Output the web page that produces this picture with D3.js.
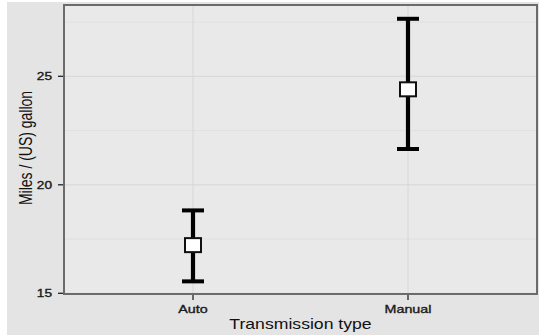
<!DOCTYPE html>
<html>
<head>
<meta charset="utf-8">
<script src="https://cdn.jsdelivr.net/npm/d3@7"></script>
<style>
  html, body { margin: 0; padding: 0; background: #ffffff; }
  svg { display: block; }
  text { font-family: "Liberation Sans", Arial, sans-serif; }
</style>
</head>
<body>
<svg id="chart" width="539" height="335"></svg>
<script>
// ---- data ----
const categories = ["Auto", "Manual"];
const meanValues = [17.22, 24.40];
const lowerValues = [15.55, 21.65];
const upperValues = [18.82, 27.65];
const yTicks = [15, 20, 25];
const yMinorTicks = [17.5, 22.5, 27.5];
const xTitle = "Transmission type";
const yTitle = "Miles / (US) gallon";

// ---- layout ----
const W = 539, H = 335;
const panel = { left: 64, right: 537, top: 5, bottom: 294 };
const stretch = 1.3;

const svg = d3.select("#chart");

// background
svg.append("rect").attr("x", 7).attr("y", 2).attr("width", W - 7).attr("height", H - 2)
  .attr("fill", "#e4e4e4");

// panel fill
svg.append("rect")
  .attr("x", panel.left).attr("y", panel.top)
  .attr("width", panel.right - panel.left).attr("height", panel.bottom - panel.top)
  .attr("fill", "#e9e9e9");

const x = d3.scalePoint().domain(categories).range([panel.left, panel.right]).padding(0.6);
const y = d3.scaleLinear().domain([15, 25]).range([293.3, 76.3]);

const grid = svg.append("g");
grid.selectAll("line.minor").data(yMinorTicks).join("line")
  .attr("x1", panel.left).attr("x2", panel.right)
  .attr("y1", d => y(d)).attr("y2", d => y(d))
  .attr("stroke", "#e1e1e1").attr("stroke-width", 1);
grid.selectAll("line.majory").data(yTicks).join("line")
  .attr("x1", panel.left).attr("x2", panel.right)
  .attr("y1", d => y(d)).attr("y2", d => y(d))
  .attr("stroke", "#d6d6d6").attr("stroke-width", 1);
grid.selectAll("line.majorx").data(categories).join("line")
  .attr("x1", d => x(d)).attr("x2", d => x(d))
  .attr("y1", panel.top).attr("y2", panel.bottom)
  .attr("stroke", "#d6d6d6").attr("stroke-width", 1);

// error bars
const data = categories.map((c, i) => ({ c, m: meanValues[i], lo: lowerValues[i], hi: upperValues[i] }));
const capHalf = 11;
const bars = svg.append("g").selectAll("g").data(data).join("g");
bars.append("line")
  .attr("x1", d => x(d.c)).attr("x2", d => x(d.c))
  .attr("y1", d => y(d.lo)).attr("y2", d => y(d.hi))
  .attr("stroke", "#000").attr("stroke-width", 4.2);
bars.append("line")
  .attr("x1", d => x(d.c) - capHalf).attr("x2", d => x(d.c) + capHalf)
  .attr("y1", d => y(d.hi)).attr("y2", d => y(d.hi))
  .attr("stroke", "#000").attr("stroke-width", 4);
bars.append("line")
  .attr("x1", d => x(d.c) - capHalf).attr("x2", d => x(d.c) + capHalf)
  .attr("y1", d => y(d.lo)).attr("y2", d => y(d.lo))
  .attr("stroke", "#000").attr("stroke-width", 4);
const sw = 16, sh = 14;
bars.append("rect")
  .attr("x", d => x(d.c) - sw / 2).attr("y", d => y(d.m) - sh / 2)
  .attr("width", sw).attr("height", sh)
  .attr("fill", "#ffffff").attr("stroke", "#111").attr("stroke-width", 2);

// panel border
svg.append("rect")
  .attr("x", panel.left).attr("y", panel.top)
  .attr("width", panel.right - panel.left).attr("height", panel.bottom - panel.top)
  .attr("fill", "none").attr("stroke", "#6b6b6b").attr("stroke-width", 2);

// y axis ticks & labels
const yAx = svg.append("g");
yAx.selectAll("line").data(yTicks).join("line")
  .attr("x1", panel.left - 6).attr("x2", panel.left - 1)
  .attr("y1", d => y(d)).attr("y2", d => y(d))
  .attr("stroke", "#222").attr("stroke-width", 1.3);
yAx.selectAll("text").data(yTicks).join("text")
  .attr("transform", d => `translate(52,${y(d) + 3.8}) scale(${stretch},1)`)
  .attr("text-anchor", "end")
  .attr("font-size", 10.5).attr("fill", "#1a1a1a")
  .attr("stroke", "#1a1a1a").attr("stroke-width", 0.35)
  .text(d => d);

// x axis ticks & labels
const xAx = svg.append("g");
xAx.selectAll("line").data(categories).join("line")
  .attr("x1", d => x(d)).attr("x2", d => x(d))
  .attr("y1", panel.bottom + 1).attr("y2", panel.bottom + 6)
  .attr("stroke", "#222").attr("stroke-width", 1.3);
xAx.selectAll("text").data(categories).join("text")
  .attr("transform", d => `translate(${x(d)},312.5) scale(${stretch},1)`)
  .attr("text-anchor", "middle")
  .attr("font-size", 11).attr("fill", "#1a1a1a")
  .attr("stroke", "#1a1a1a").attr("stroke-width", 0.35)
  .text(d => d);

// axis titles
svg.append("text")
  .attr("transform", `translate(${(panel.left + panel.right) / 2},329) scale(1.26,1)`)
  .attr("text-anchor", "middle")
  .attr("font-size", 14).attr("fill", "#111")
  .text(xTitle);
svg.append("text")
  .attr("transform", `translate(31.5,148) scale(${stretch},1) rotate(-90)`)
  .attr("text-anchor", "middle")
  .attr("font-size", 14).attr("fill", "#111")
  .text(yTitle);
</script>
</body>
</html>
